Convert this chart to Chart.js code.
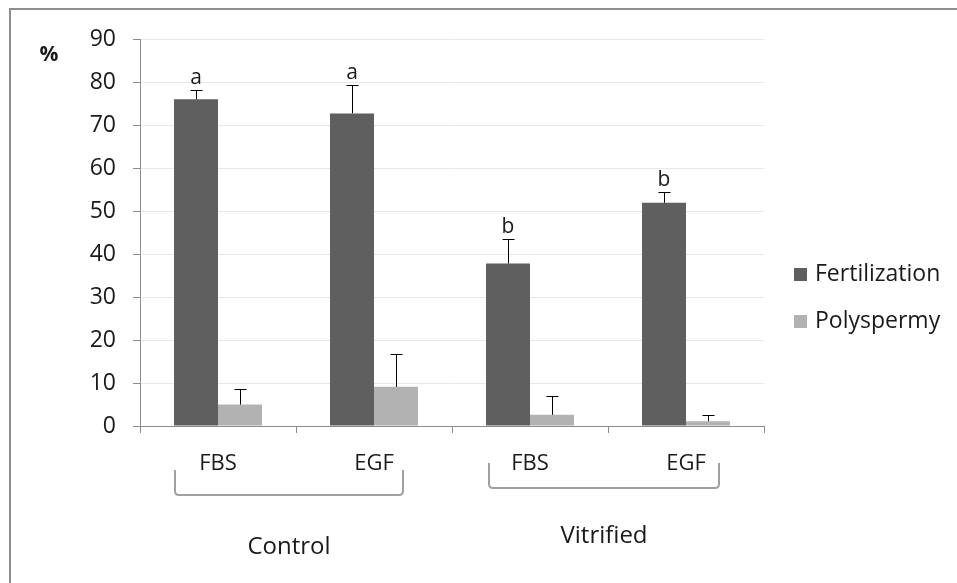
<!DOCTYPE html>
<html>
<head>
<meta charset="utf-8">
<script src="https://cdn.jsdelivr.net/npm/chart.js@4.4.1/dist/chart.umd.min.js"></script>
<style>
  html, body { margin: 0; padding: 0; background: #fff; }
  canvas { display: block; }
</style>
</head>
<body>
<canvas id="chart" width="957" height="583"></canvas>
<script>
const treatments = ["FBS", "EGF", "FBS", "EGF"];
const groups = ["Control", "Vitrified"];
const fertilization = [76, 72.7, 37.8, 51.9];
const fertilizationErr = [2.1, 6.6, 5.8, 2.5];
const polyspermy = [5, 9.1, 2.6, 1.1];
const polyspermyErr = [3.5, 7.7, 4.4, 1.4];
const letters = ["a", "a", "b", "b"];
const yMin = 0, yMax = 90, yStep = 10;

const darkGray = "#5f5f5f";
const lightGray = "#b2b2b2";
const axisGray = "#8c8c8c";
const textColor = "#1a1a1a";
const fontFamily = "'Open Sans', Lato, sans-serif";

// error bars, letters, brackets, legend and the frame
const extras = {
  id: "extras",
  beforeDraw(chart) {
    const c = chart.ctx;
    c.save();
    c.strokeStyle = "#8e8e8e";
    c.lineWidth = 2;
    c.beginPath();
    c.moveTo(10, 583);
    c.lineTo(10, 9);
    c.lineTo(957, 9);
    c.stroke();
    c.restore();
  },
  afterDatasetsDraw(chart) {
    const c = chart.ctx;
    const y = chart.scales.y;
    const x = chart.scales.x;
    c.save();

    // error bars (upper only)
    const errs = [fertilizationErr, polyspermyErr];
    const vals = [fertilization, polyspermy];
    c.strokeStyle = "#000";
    c.lineWidth = 1;
    [0, 1].forEach(d => {
      chart.getDatasetMeta(d).data.forEach((bar, i) => {
        const bx = Math.round(bar.x) + 0.5;
        const top = y.getPixelForValue(vals[d][i]);
        const cap = Math.round(y.getPixelForValue(vals[d][i] + errs[d][i])) + 0.5;
        c.beginPath();
        c.moveTo(bx, top);
        c.lineTo(bx, cap);
        c.moveTo(bx - 6, cap);
        c.lineTo(bx + 6, cap);
        c.stroke();
      });
    });

    // significance letters
    c.fillStyle = textColor;
    c.font = "21px " + fontFamily;
    c.textAlign = "center";
    c.textBaseline = "alphabetic";
    chart.getDatasetMeta(0).data.forEach((bar, i) => {
      const cap = y.getPixelForValue(fertilization[i] + fertilizationErr[i]);
      c.fillText(letters[i], bar.x, cap - 6);
    });

    // "%" label
    c.font = "bold 21px " + fontFamily;
    c.textBaseline = "middle";
    c.fillText("%", 49, 55);

    // group brackets and names
    const bracket = [
      { l: x.getPixelForValue(0) - 43, r: x.getPixelForValue(1) + 29, t: 470, b: 495, ty: 547 },
      { l: x.getPixelForValue(2) - 41, r: x.getPixelForValue(3) + 33, t: 463, b: 488, ty: 536 }
    ];
    c.strokeStyle = "#a0a0a0";
    c.lineWidth = 2;
    bracket.forEach((g, i) => {
      const rad = 4;
      c.beginPath();
      c.moveTo(g.l, g.t);
      c.lineTo(g.l, g.b - rad);
      c.quadraticCurveTo(g.l, g.b, g.l + rad, g.b);
      c.lineTo(g.r - rad, g.b);
      c.quadraticCurveTo(g.r, g.b, g.r, g.b - rad);
      c.lineTo(g.r, g.t);
      c.stroke();
      c.fillStyle = textColor;
      c.font = "24px " + fontFamily;
      c.textAlign = "center";
      c.textBaseline = "middle";
      c.fillText(groups[i], (g.l + g.r) / 2, g.ty);
    });

    // legend
    const legend = [
      { label: "Fertilization", color: darkGray, y: 274 },
      { label: "Polyspermy", color: lightGray, y: 321 }
    ];
    c.font = "23px " + fontFamily;
    c.textAlign = "left";
    c.textBaseline = "middle";
    legend.forEach(item => {
      c.fillStyle = item.color;
      c.fillRect(794, item.y - 6, 13, 13);
      c.fillStyle = textColor;
      c.fillText(item.label, 815, item.y);
    });

    c.restore();
  }
};

new Chart(document.getElementById("chart"), {
  type: "bar",
  data: {
    labels: treatments,
    datasets: [
      { label: "Fertilization", data: fertilization, backgroundColor: darkGray },
      { label: "Polyspermy", data: polyspermy, backgroundColor: lightGray }
    ]
  },
  options: {
    responsive: false,
    animation: false,
    devicePixelRatio: 1,
    layout: { padding: { top: 39, right: 193, bottom: 0, left: 0 } },
    datasets: { bar: { categoryPercentage: 0.564, barPercentage: 1 } },
    plugins: { legend: { display: false }, tooltip: { enabled: false } },
    scales: {
      x: {
        offset: true,
        afterFit: s => { s.height = 157; },
        grid: { drawOnChartArea: false, offset: true, color: axisGray, tickLength: 7 },
        border: { color: axisGray },
        ticks: { color: textColor, padding: 18, font: { family: fontFamily, size: 22 } }
      },
      y: {
        min: yMin,
        max: yMax,
        afterFit: s => { s.width = 140; },
        grid: { color: "#e8e8e8", tickColor: axisGray, tickLength: 7 },
        border: { color: axisGray },
        ticks: { stepSize: yStep, color: textColor, padding: 17, font: { family: fontFamily, size: 23 } }
      }
    }
  },
  plugins: [extras]
});
</script>
</body>
</html>
